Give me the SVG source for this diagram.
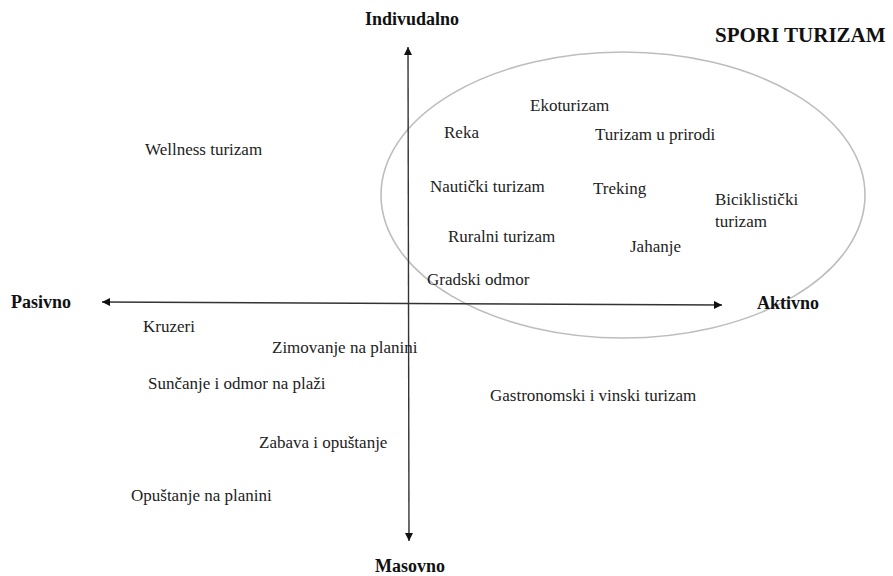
<svg xmlns="http://www.w3.org/2000/svg" width="893" height="576" viewBox="0 0 893 576">
<style>
.t{font-family:"Liberation Serif","Times New Roman",serif;font-size:17px;fill:#222}
.b{font-family:"Liberation Serif","Times New Roman",serif;font-size:18px;font-weight:bold;fill:#111}
.ax{stroke:#333;stroke-width:1.4;fill:none}
</style>
<defs>
<marker id="ah" viewBox="0 0 10 10" refX="10" refY="5" markerWidth="9" markerHeight="8" markerUnits="userSpaceOnUse" orient="auto-start-reverse">
<path d="M0,0 L10,5 L0,10 z" fill="#111"/>
</marker>
</defs>
<rect width="893" height="576" fill="#fff"/>
<g id="ellipse-spori">
<ellipse cx="623" cy="195" rx="242" ry="143" fill="none" stroke="#bdbdbd" stroke-width="1.6"/>
</g>
<g id="connectors">
<line class="ax" x1="408" y1="47" x2="409" y2="541" marker-start="url(#ah)" marker-end="url(#ah)"/>
<line class="ax" x1="102" y1="302" x2="722" y2="305" marker-start="url(#ah)" marker-end="url(#ah)"/>
</g>
<g id="axis-labels">
<text id="indivudalno" class="b" x="412" y="25" text-anchor="middle">Indivudalno</text>
<text id="masovno" class="b" x="410" y="572" text-anchor="middle">Masovno</text>
<text id="pasivno" class="b" x="11" y="308">Pasivno</text>
<text id="aktivno" class="b" x="757" y="309">Aktivno</text>
<text id="spori" class="b" x="715" y="42" style="font-size:21px">SPORI TURIZAM</text>
</g>
<g id="n-ekoturizam"><text class="t" x="530" y="111">Ekoturizam</text></g>
<g id="n-reka"><text class="t" x="444" y="138">Reka</text></g>
<g id="n-priroda"><text class="t" x="595" y="140">Turizam u prirodi</text></g>
<g id="n-nauticki"><text class="t" x="430" y="192">Nautički turizam</text></g>
<g id="n-treking"><text class="t" x="593" y="194">Treking</text></g>
<g id="n-biciklisticki"><text class="t" x="715" y="205">Biciklistički</text><text class="t" x="715" y="227">turizam</text></g>
<g id="n-ruralni"><text class="t" x="448" y="242">Ruralni turizam</text></g>
<g id="n-jahanje"><text class="t" x="630" y="252">Jahanje</text></g>
<g id="n-gradski"><text class="t" x="427" y="285">Gradski odmor</text></g>
<g id="n-wellness"><text class="t" x="145" y="155">Wellness turizam</text></g>
<g id="n-kruzeri"><text class="t" x="143" y="332">Kruzeri</text></g>
<g id="n-zimovanje"><text class="t" x="272" y="353">Zimovanje na planini</text></g>
<g id="n-suncanje"><text class="t" x="148" y="389">Sunčanje i odmor na plaži</text></g>
<g id="n-gastro"><text class="t" x="490" y="401">Gastronomski i vinski turizam</text></g>
<g id="n-zabava"><text class="t" x="259" y="448">Zabava i opuštanje</text></g>
<g id="n-opustanje"><text class="t" x="131" y="501">Opuštanje na planini</text></g>
</svg>
